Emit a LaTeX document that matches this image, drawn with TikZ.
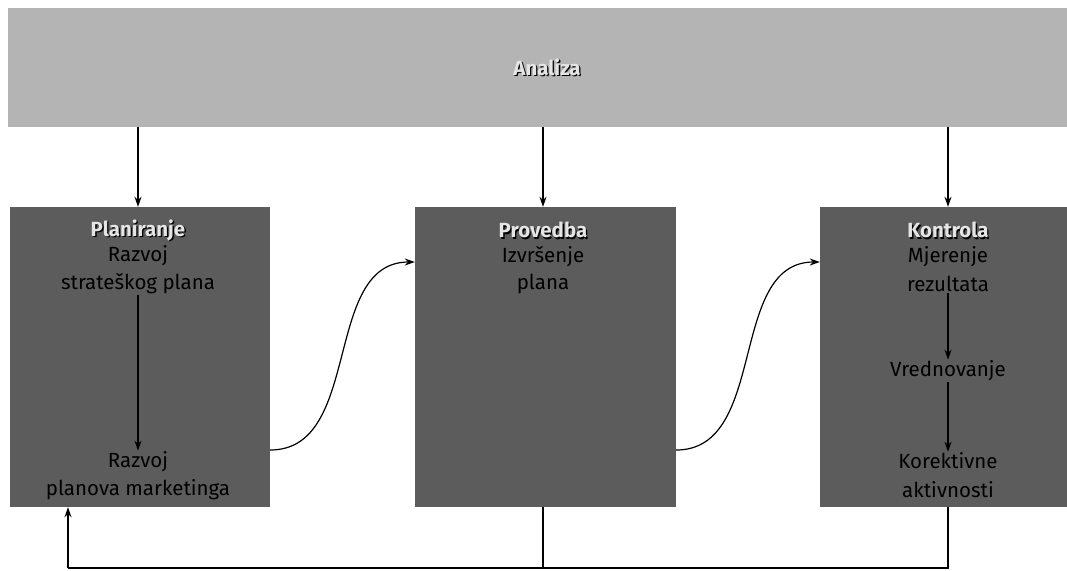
\documentclass[tikz,border=0pt]{standalone}
\usepackage{fontspec}
\setmainfont{Fira Sans}
\usetikzlibrary{arrows.meta,calc}
\definecolor{bandgray}{HTML}{B4B4B4}
\definecolor{boxgray}{HTML}{5C5C5C}
\newcommand{\shad}[1]{\makebox[0pt][l]{\hspace{1.3pt}\raisebox{-1.3pt}{\color{black}#1}}{\color{white!90!black}#1}}
\begin{document}
\begin{tikzpicture}[x=1pt,y=-1pt,
  band/.style={fill=bandgray,draw=none,minimum width=1059pt,minimum height=119pt,inner sep=0pt},
  stage/.style={fill=boxgray,draw=none,minimum height=300pt,inner sep=0pt},
  txt/.style={font=\fontsize{20.5}{24}\selectfont,inner sep=1pt,text=black,align=center},
  ttl/.style={font=\fontsize{20.5}{24}\selectfont\bfseries,inner sep=1pt,align=center},
  arr/.style={line width=1.2pt,-{Stealth[length=10pt,width=7pt]}},
  ln/.style={line width=1.2pt}]
\useasboundingbox (0,0) rectangle (1067,570);
\node[band] (ana) at (537.5,67.5) {};
\node[ttl] (anat) at (547,68) {\shad{Analiza}};
\node[stage,minimum width=260pt] (lb) at (140,357) {};
\node[stage,minimum width=261pt] (mb) at (545.5,357) {};
\node[stage,minimum width=247pt] (rb) at (943.5,357) {};
% left texts
\node[ttl] (lt1) at (138,231) {\shad{Planiranje}};
\node[txt] (lt2) at (138,256) {Razvoj};
\node[txt] (lt3) at (138,284) {strateškog plana};
\node[txt] (lr1) at (138,462) {Razvoj};
\node[txt] (lr2) at (138,490) {planova marketinga};
% middle
\node[ttl] (mt1) at (543,231) {\shad{Provedba}};
\node[txt] (mt2) at (543,257) {Izvršenje};
\node[txt] (mt3) at (543,284) {plana};
% right
\node[ttl] (rt1) at (948,231) {\shad{Kontrola}};
\node[txt] (rt2) at (948,257) {Mjerenje};
\node[txt] (rt3) at (948,284) {rezultata};
\node[txt] (rv) at (948,371) {Vrednovanje};
\node[txt] (rk1) at (948,461) {Korektivne};
\node[txt] (rk2) at (948,490) {aktivnosti};
% arrows from Analiza
\draw[arr] (ana.south -| lt1) -- (lb.north -| lt1);
\draw[arr] (ana.south -| mt1) -- (mb.north -| mt1);
\draw[arr] (ana.south -| rt1) -- (rb.north -| rt1);
% inner arrows
\draw[arr] (lt3.south) -- (lr1.north);
\draw[arr] (rt3.south) -- (rv.north);
\draw[arr] (rv.south) -- (rk1.north);
% curves
\draw[arr] ($(lb.east)+(0,93)$) to[out=0,in=180] ($(mb.west)+(0,-95)$);
\draw[arr] ($(mb.east)+(0,93)$) to[out=0,in=180] ($(rb.west)+(0,-95)$);
% feedback
\coordinate (fb) at (68,568);
\draw[ln] (rb.south -| rt1) -- (rt1 |- fb) -- (fb);
\draw[ln] (mb.south -| mt1) -- (mt1 |- fb);
\draw[arr] (fb) -- (fb |- lb.south);
\end{tikzpicture}
\end{document}
